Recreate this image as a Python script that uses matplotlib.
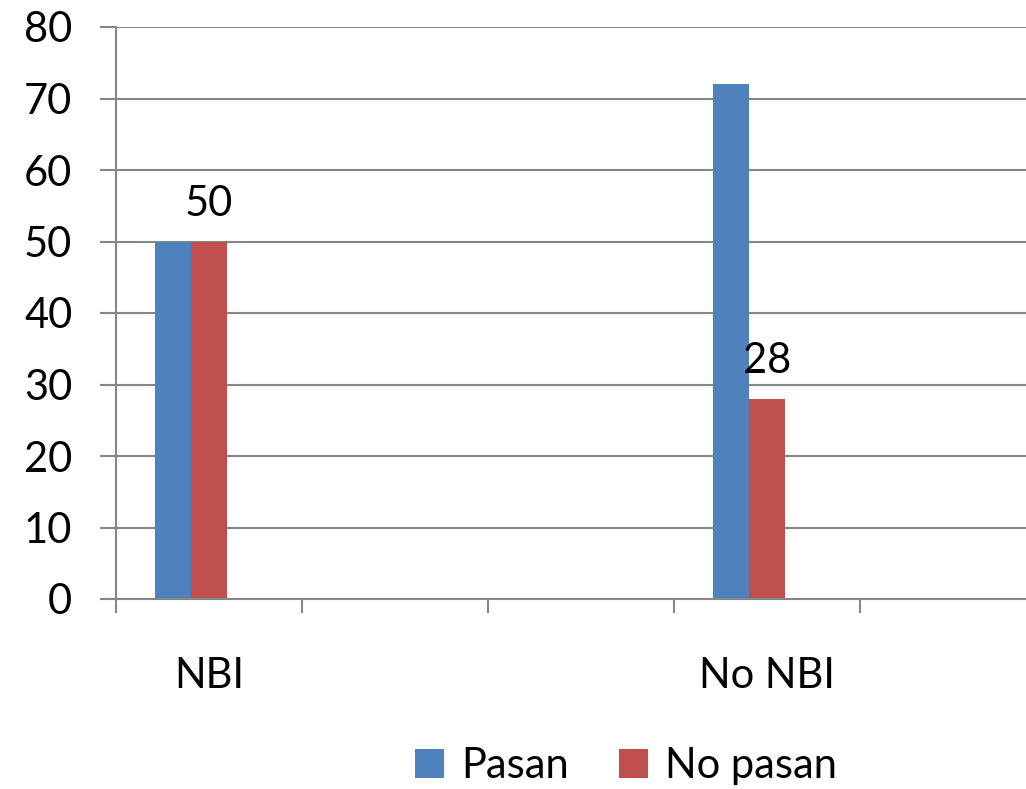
import numpy as np
import matplotlib.pyplot as plt

# === DATA === #
categorias = ['NBI', '', '', 'No NBI', '']
pasan = [50, 0, 0, 72, 0]
no_pasan = [50, 0, 0, 28, 0]
etiquetas_no_pasan = ['50', '', '', '28', '']

azul = '#4F81BD'
rojo = '#C0504D'
gris = '#868686'

plt.rcParams['font.family'] = ['Lato', 'DejaVu Sans']

fig = plt.figure(figsize=(10.26, 7.89), dpi=100)
# plot area runs a little past the right edge, like the original
ax = fig.add_axes([116/1026, 190/789, 930/1026, 572/789])

x = np.arange(len(categorias))
w = 36/186

ax.bar(x - w, pasan, width=w, color=azul, label='Pasan', align='center')
ax.bar(x, no_pasan, width=w, color=rojo, label='No pasan', align='center')

for xi, v, t in zip(x, no_pasan, etiquetas_no_pasan):
    if t:
        ax.text(xi, v + 2.6, t, ha='center', va='bottom', fontsize=30)

ax.set_xlim(-0.5, len(categorias) - 0.5)
ax.set_ylim(0, 80)
ax.set_yticks(np.arange(0, 81, 10))
ax.grid(axis='y', color=gris, linewidth=1.5)
ax.set_axisbelow(True)

for s in ['top', 'right']:
    ax.spines[s].set_visible(False)
for s in ['left', 'bottom']:
    ax.spines[s].set_color(gris)
    ax.spines[s].set_linewidth(1.5)

ax.tick_params(axis='y', length=11.5, width=1.5, color=gris, labelsize=30, pad=20)

# category boundaries as ticks, labels centred on minor ticks
ax.set_xticks(np.arange(-0.5, len(categorias), 1.0))
ax.set_xticklabels([])
ax.tick_params(axis='x', which='major', length=10, width=1.5, color=gris)
ax.set_xticks(x, minor=True)
ax.set_xticklabels(categorias, minor=True)
ax.tick_params(axis='x', which='minor', length=0, labelsize=30, pad=42)

fig.legend(loc='center', bbox_to_anchor=(626/1026, 1 - 766/789), ncol=2, frameon=False,
           fontsize=30, handlelength=0.7, handleheight=0.7, handletextpad=0.4,
           columnspacing=1.2)

plt.savefig('out.png', dpi=100)
